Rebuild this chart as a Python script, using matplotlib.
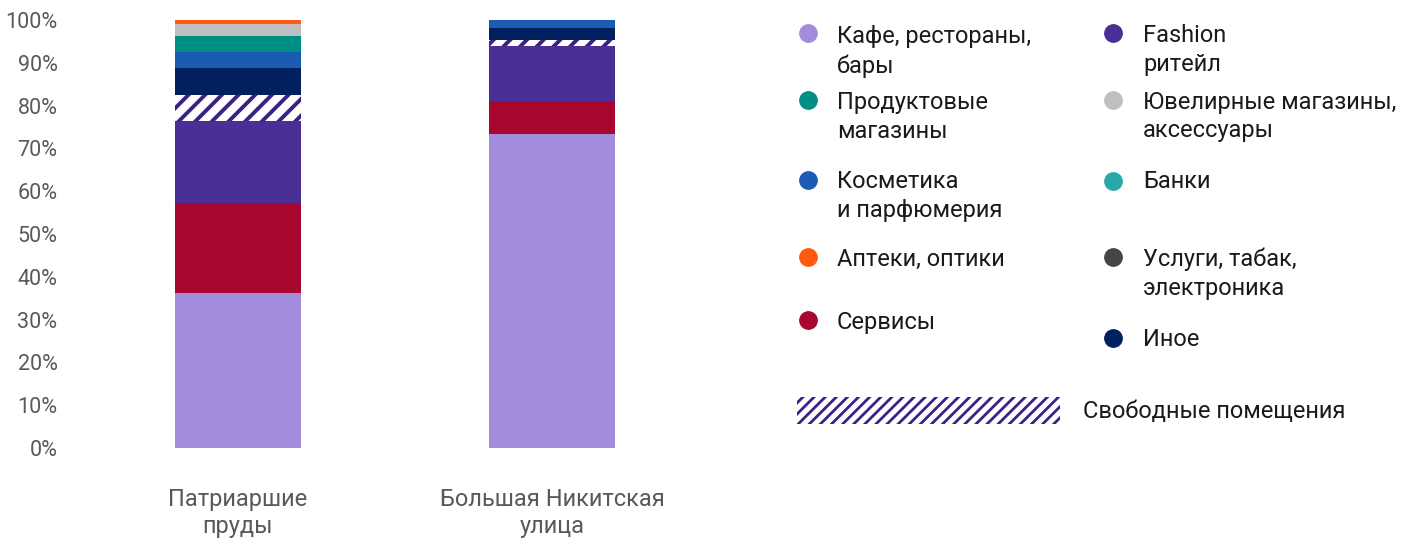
import matplotlib
matplotlib.use("Agg")
import matplotlib.pyplot as plt
from matplotlib.lines import Line2D
from matplotlib.patches import Rectangle
import numpy as np

plt.rcParams['font.family'] = ['Roboto', 'DejaVu Sans']
plt.rcParams['hatch.linewidth'] = 2.8

categories = ["Патриаршие\nпруды", "Большая Никитская\nулица"]

# stacked series, bottom to top (percent)
series_names = ["Кафе, рестораны,\nбары", "Сервисы", "Fashion\nритейл", "Свободные помещения",
                "Иное", "Косметика\nи парфюмерия", "Продуктовые\nмагазины",
                "Ювелирные магазины,\nаксессуары", "Аптеки, оптики", "Банки", "Услуги, табак,\nэлектроника"]
kafe = [36.2, 73.4]
servisy = [21.0, 7.7]
fashion = [19.2, 12.9]
svobodnye = [6.1, 1.4]
inoe = [6.3, 2.8]
kosmetika = [3.7, 1.8]
produkty = [3.7, 0.0]
juvelir = [2.8, 0.0]
apteki = [1.0, 0.0]
banki = [0.0, 0.0]
uslugi = [0.0, 0.0]

colors = ["#A28DDD", "#A8072F", "#4A2F97", "white", "#00205F", "#1A5BB4", "#008F85",
          "#BFBFBF", "#FF5A0F", "#2AA8A8", "#454545"]
hatch_color = "#3C2185"

yticks = [0, 10, 20, 30, 40, 50, 60, 70, 80, 90, 100]
ytick_labels = [f"{v}%" for v in yticks]

fig = plt.figure(figsize=(14.18, 5.40), dpi=100)
ax = fig.add_axes([81/1418, 1 - 448/540, (709 - 81)/1418, (448 - 20)/540])

data = [kafe, servisy, fashion, svobodnye, inoe, kosmetika, produkty, juvelir, apteki, banki, uslugi]
x = np.arange(len(categories))
bottom = np.zeros(len(categories))
for i, vals in enumerate(data):
    vals = np.array(vals)
    if series_names[i] == "Свободные помещения":
        ax.bar(x, vals, 0.4, bottom=bottom, facecolor="white", edgecolor=hatch_color,
               linewidth=0, hatch="//")
    else:
        ax.bar(x, vals, 0.4, bottom=bottom, color=colors[i], linewidth=0)
    bottom += vals

ax.set_xlim(-0.5, 1.5)
ax.set_ylim(0, 100)
ax.set_yticks(yticks)
ax.set_yticklabels(ytick_labels)
ax.set_xticks(x)
ax.set_xticklabels(categories)
for s in ax.spines.values():
    s.set_visible(False)
ax.tick_params(axis='y', length=0, pad=17, labelsize=15.5, labelcolor="#595959")
ax.tick_params(axis='x', length=0, pad=29, labelsize=17, labelcolor="#595959")

# legend (manual layout)
W, H = 1418, 540
def fx(px): return px / W
def fy(py): return 1 - py / H

legend_items = [
    # (name index, marker x, marker y, text x, first line y)
    (0, 808, 33, 837, 37),
    (6, 808, 100, 837, 102),
    (5, 808, 180, 837, 182),
    (8, 808, 257, 837, 259),
    (1, 808, 320, 837, 322),
    (2, 1113, 33, 1143, 35),
    (7, 1113, 100, 1143, 102),
    (9, 1113, 181, 1143, 182),
    (10, 1113, 257, 1143, 259),
    (4, 1113, 338, 1143, 340),
]
for idx, mx, my, tx, ty in legend_items:
    fig.add_artist(Line2D([fx(mx)], [fy(my)], marker='o', markersize=12.5,
                          color=colors[idx], linestyle='none', transform=fig.transFigure))
    for k, line in enumerate(series_names[idx].split("\n")):
        fig.text(fx(tx), fy(ty + 29 * k), line, fontsize=17, color="#1a1a1a",
                 va='center', ha='left')

leg_patch = Rectangle((fx(797), fy(424)), fx(1060) - fx(797), fy(397) - fy(424),
                      transform=fig.transFigure, facecolor="white", edgecolor=hatch_color,
                      linewidth=0, hatch="///")
if hasattr(leg_patch, "set_hatch_linewidth"):
    leg_patch.set_hatch_linewidth(2.0)
fig.add_artist(leg_patch)
fig.text(fx(1083), fy(411), series_names[3], fontsize=17, color="#1a1a1a",
         va='center', ha='left')

fig.savefig("out.png", dpi=100)
